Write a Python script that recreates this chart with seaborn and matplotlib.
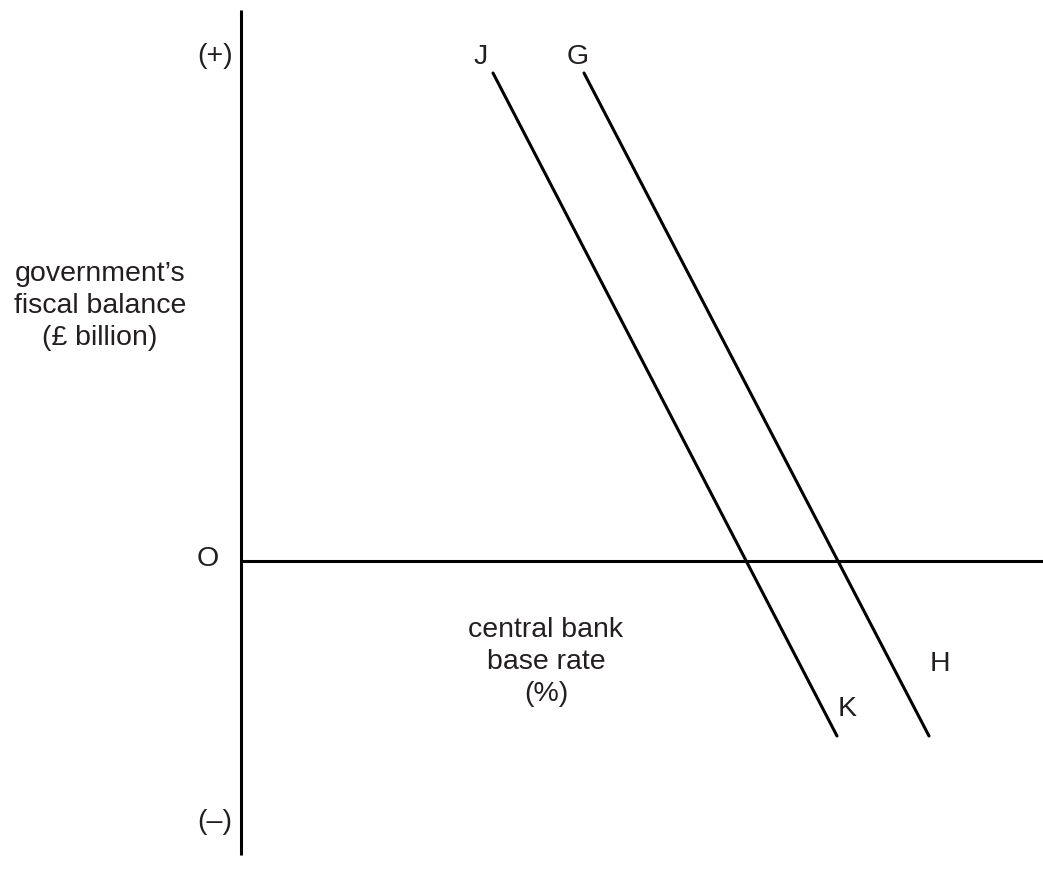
import matplotlib
matplotlib.use("Agg")
import matplotlib.pyplot as plt
import seaborn as sns
import pandas as pd

sns.set_theme(style="white")
plt.rcParams['font.family'] = ['Liberation Sans', 'DejaVu Sans']

# Curve endpoints (data units, origin O at axes crossing, y positive up)
curve_names = ["JK", "JK", "GH", "GH"]
curve_x = [252, 596, 343, 688]
curve_y = [488, -175, 488, -175]

df = pd.DataFrame({"curve": curve_names, "x": curve_x, "y": curve_y})

W, H = 1043, 882
fig = plt.figure(figsize=(W / 100, H / 100), dpi=100)
ax = fig.add_axes([0, 0, 1, 1])
ox, oy = 241, 561  # origin pixel position
ax.set_xlim(-ox, W - ox)
ax.set_ylim(-(H - oy), oy)
ax.axis("off")

sns.lineplot(data=df, x="x", y="y", units="curve", estimator=None,
             color="black", linewidth=2.2, ax=ax, legend=False, sort=False)

# axes
ax.plot([0, 0], [oy - 10, -(855 - oy)], color="black", linewidth=2.2, solid_capstyle="butt")
ax.plot([0, W - ox], [0, 0], color="black", linewidth=2.2, solid_capstyle="butt")

tc = "#231f20"
fs = 20.5
def px(x, y):
    return x - ox, oy - y

def txt(x, y, s, **kw):
    X, Y = px(x, y)
    ax.text(X, Y, s, ha="center", va="center", fontsize=fs, color=tc, **kw)

txt(215, 56, "(+)")
txt(215, 822, "(–)")
txt(208, 559, "O")
txt(481, 57, "J")
txt(578, 57, "G")
txt(847, 709, "K")
txt(940, 664, "H")
txt(100, 306, "government’s\nfiscal balance\n(£ billion)", linespacing=1.32)
txt(546, 662, "central bank\nbase rate\n(%)", linespacing=1.32)

fig.savefig("out.png", dpi=100, facecolor="white")
